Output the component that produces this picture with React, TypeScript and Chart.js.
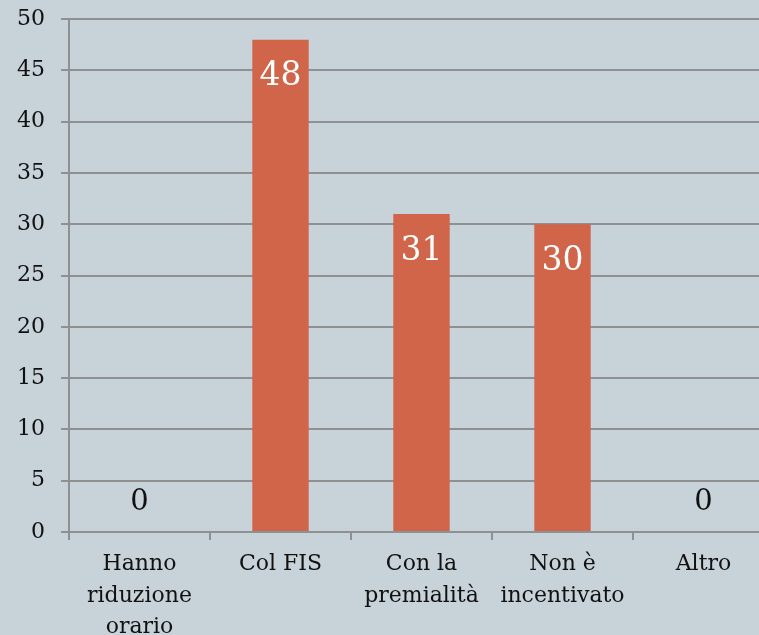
import React, { useEffect, useRef } from "react";
import { Chart, registerables } from "chart.js";

Chart.register(...registerables);

const categories: (string | string[])[] = [
  ["Hanno", "riduzione", "orario"],
  "Col FIS",
  ["Con la", "premialità"],
  ["Non è", "incentivato"],
  "Altro",
];
const values = [0, 48, 31, 30, 0];
const yMin = 0;
const yMax = 50;
const yStep = 5;

const BG = "#c7d2d9";
const BAR = "#d1654a";
const GRID = "#8e9092";
const FONT = "'DejaVu Serif', Georgia, serif";
const SHIFT = 10;

const labelPlugin = {
  id: "valueLabels",
  afterDatasetsDraw(chart: any) {
    const ctx = chart.ctx;
    const meta = chart.getDatasetMeta(0);
    ctx.save();
    ctx.textAlign = "center";
    ctx.textBaseline = "middle";
    meta.data.forEach((bar: any, i: number) => {
      const v = values[i];
      if (v > 0) {
        ctx.font = `33px ${FONT}`;
        ctx.fillStyle = "#ffffff";
        ctx.fillText(String(v), bar.x, bar.y + 37);
      } else {
        ctx.font = `29px ${FONT}`;
        ctx.fillStyle = "#111111";
        ctx.fillText(String(v), bar.x, bar.y - 30);
      }
    });
    ctx.restore();
  },
};

export default function App() {
  const ref = useRef<HTMLCanvasElement | null>(null);
  useEffect(() => {
    if (!ref.current) return;
    const chart = new Chart(ref.current, {
      type: "bar",
      data: {
        labels: categories,
        datasets: [
          {
            data: values,
            backgroundColor: BAR,
            borderWidth: 0,
            barPercentage: 0.4,
            categoryPercentage: 1,
          },
        ],
      },
      options: {
        responsive: false,
        animation: false,
        devicePixelRatio: 1,
        layout: { padding: { top: 0, left: 0, right: 2, bottom: 0 } },
        plugins: { legend: { display: false }, tooltip: { enabled: false } },
        scales: {
          x: {
            offset: true,
            grid: {
              display: true,
              drawOnChartArea: false,
              drawTicks: true,
              tickLength: 8,
              color: GRID,
              lineWidth: 2,
              offset: true,
            },
            border: { display: true, color: GRID, width: 2 },
            ticks: {
              color: "#111111",
              font: { family: FONT, size: 22, lineHeight: 1.42 },
              padding: 9,
              maxRotation: 0,
              autoSkip: false,
            },
            afterFit(scale: any) {
              scale.height = 103;
            },
          },
          y: {
            min: yMin,
            max: yMax,
            grid: {
              color: GRID,
              lineWidth: 2,
              drawTicks: true,
              tickLength: 8,
            },
            border: { display: true, color: GRID, width: 2 },
            ticks: {
              stepSize: yStep,
              color: "#111111",
              font: { family: FONT, size: 22 },
              padding: 16,
            },
            afterFit(scale: any) {
              scale.width = 69;
            },
          },
        },
      },
      plugins: [labelPlugin],
    });
    return () => chart.destroy();
  }, []);
  return (
    <div
      style={{
        position: "fixed",
        left: 0,
        top: 0,
        width: 759,
        height: 635,
        overflow: "hidden",
        background: BG,
      }}
    >
      <canvas
        ref={ref}
        width={776}
        height={635 + SHIFT}
        style={{ display: "block", marginTop: -SHIFT }}
      />
    </div>
  );
}
